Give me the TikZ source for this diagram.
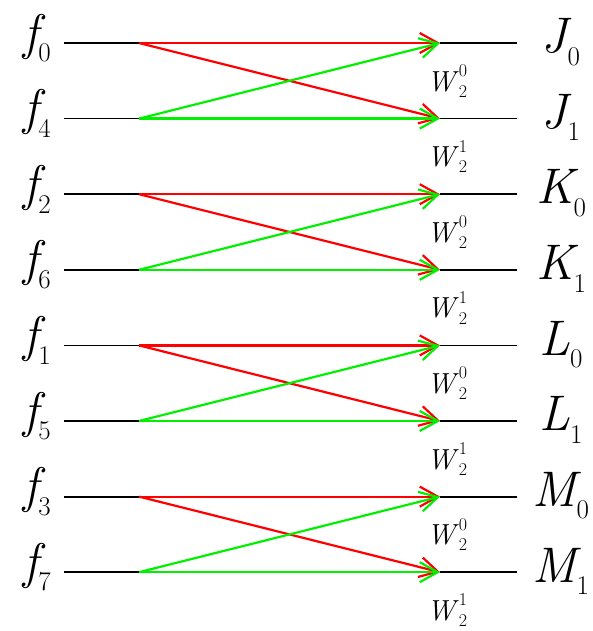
\documentclass[tikz,border=0pt]{standalone}
\usepackage{tikz}
\usetikzlibrary{arrows.meta}

\definecolor{bfred}{RGB}{255,0,0}
\definecolor{bfgreen}{RGB}{0,240,0}

\newcommand{\idx}[2]{#1\raisebox{-0.25em}{\fontsize{27}{28}\selectfont\upshape #2}}
\newcommand{\twid}[1]{\textit{W}\rlap{\raisebox{-0.22em}{\fontsize{18}{20}\selectfont 2}}\raisebox{0.5em}{\fontsize{18}{20}\selectfont #1}}

\begin{document}
\begin{tikzpicture}[x=1pt, y=-1pt,
        inlabel/.style={inner sep=0pt, font=\fontsize{50}{52}\selectfont\itshape},
        outlabel/.style={inner sep=0pt, font=\fontsize{50}{52}\selectfont\itshape},
        twiddle/.style={inner sep=0pt, font=\fontsize{29}{32}\selectfont},
        wire/.style={draw=black, line width=1.8pt},
        flow/.style={line width=2.2pt, -{Straight Barb[length=18pt, width=20pt]}},
    ]
    \useasboundingbox (0,0) rectangle (592,631);

    % Inputs, outputs and twiddle factors
    \foreach \lab/\res/\k [count=\i from 0] in {0/J/0, 4/J/1, 2/K/0, 6/K/1, 1/L/0, 5/L/1, 3/M/0, 7/M/1} {
        \node[inlabel] (f\lab) at (37, {38+75.6*\i}) {\idx{f}{\lab}};
        \node[outlabel] (\res\k) at (561, {42+75.6*\i}) {\idx{\res}{\k}};
        \node[twiddle] (w\i) at (447, {81+75.6*\i}) {\twid{\k}};
        \coordinate (l\i) at (64, {43+75.6*\i});
        \coordinate (s\i) at (139, {43+75.6*\i});
        \coordinate (e\i) at (440, {43+75.6*\i});
        \coordinate (r\i) at (517, {43+75.6*\i});
        \draw[wire] (l\i) -- (s\i);
        \draw[wire] (e\i) -- (r\i);
    }

    % Butterflies
    \foreach \p [evaluate=\p as \q using int(\p+1)] in {0,2,4,6} {
        \draw[flow, bfred] (s\p) -- (e\p);
        \draw[flow, bfred] (s\p) -- (e\q);
        \draw[flow, bfgreen] (s\q) -- (e\p);
        \draw[flow, bfgreen] (s\q) -- (e\q);
    }
\end{tikzpicture}
\end{document}
